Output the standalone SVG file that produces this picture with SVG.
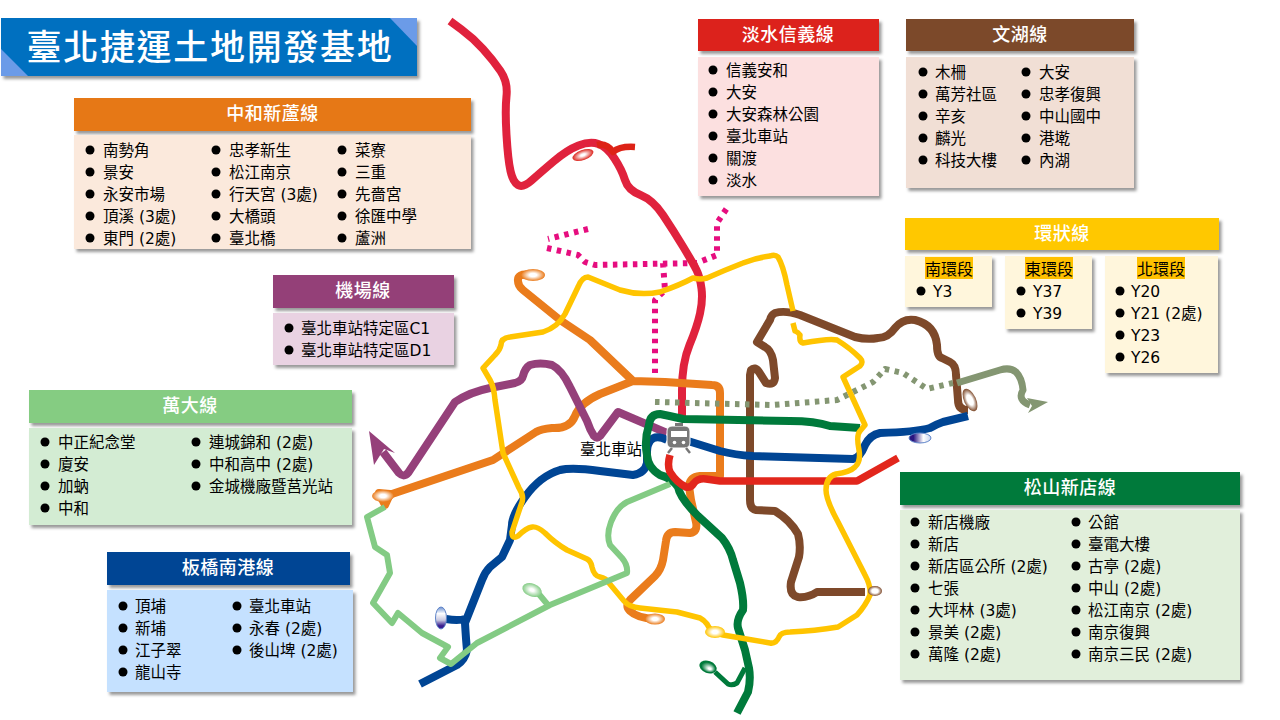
<svg xmlns="http://www.w3.org/2000/svg" width="1280" height="720" viewBox="0 0 1280 720">
<style>
text{font-family:"DejaVu Sans","Noto Sans CJK TC",sans-serif;font-size:15.500px;fill:#000}
.h{font-family:"Noto Sans CJK TC",sans-serif;font-size:18px;font-weight:500;fill:#fff;text-anchor:middle;letter-spacing:.5px}
.s{text-anchor:middle;font-family:"Noto Sans CJK TC",sans-serif;font-size:16px}
.sh{filter:url(#ds)}
.l{fill:none;stroke-linejoin:round;stroke-linecap:butt}
.b{fill:#000}
</style>
<defs>
<filter id="ds" x="-10%" y="-20%" width="120%" height="140%"><feDropShadow dx="2.5" dy="3" stdDeviation="1.5" flood-color="#000" flood-opacity=".4"/></filter>
<filter id="soft" filterUnits="userSpaceOnUse" x="340" y="0" width="740" height="720"><feGaussianBlur stdDeviation=".5"/></filter>
<radialGradient id="gr"><stop offset=".2" stop-color="#fff"/><stop offset="1" stop-color="#dc241c"/></radialGradient>
<radialGradient id="go"><stop offset=".3" stop-color="#fff"/><stop offset="1" stop-color="#ea7b1b"/></radialGradient>
<radialGradient id="gy"><stop offset=".3" stop-color="#fff"/><stop offset="1" stop-color="#ffc400"/></radialGradient>
<radialGradient id="gl"><stop offset=".2" stop-color="#fff"/><stop offset="1" stop-color="#83cb84"/></radialGradient>
<radialGradient id="gd" fx=".65" fy=".6"><stop offset=".15" stop-color="#fff"/><stop offset=".8" stop-color="#007a3a"/></radialGradient>
<linearGradient id="gb" x1="0" y1="0" x2="0" y2="1"><stop offset="0" stop-color="#6a8fd0"/><stop offset=".3" stop-color="#fff"/><stop offset=".6" stop-color="#c8c8e0"/><stop offset=".85" stop-color="#3a1f90"/></linearGradient>
<linearGradient id="gb2"><stop offset=".2" stop-color="#2a1580"/><stop offset=".65" stop-color="#fff"/><stop offset="1" stop-color="#c8d4f0"/></linearGradient>
<radialGradient id="gw"><stop offset=".45" stop-color="#fff"/><stop offset="1" stop-color="#7e4a2b"/></radialGradient>
</defs>
<rect width="1280" height="720" fill="#fff"/>

<g id="lines" filter="url(#soft)">
<path id="brown" class="l" stroke="#7e4a2b" stroke-width="8" d="M968 410Q958 410 958 400L956 375Q956 365 950 362L942 358Q937 357 937 345Q935 325 915 320Q903 318 895 328Q888 338 878 338Q867 340 855 337L800 315Q785 310 775 313Q771 315 770 320L757 342L765 347Q771 350 773 360L775 378Q774 386 766 383L759 372Q755 366 751 370L750 375V500Q750 509 756 510L775 511Q790 520 798 534Q801 545 799 557L791 582Q789 595 798 597Q808 598 817 592L865 592"/>
<path id="pink" class="l" stroke="#e6117f" stroke-width="6" stroke-dasharray="4.500 5.500" d="M588 229L548 239M547 248L578 255L585 262L595 265L697 263L717 255V223L727 208M663 263L665 290L655 300V373"/>
<path id="red" class="l" stroke="#e0243c" stroke-width="8" d="M450 21L461.500 29.500Q473 38 483 49Q493 60 500.500 71Q508 82 506.500 96Q505 110 506.500 135Q508 160 510.500 171Q513 182 518 185Q523 188 531.500 180.500Q540 173 553.500 161.500Q567 150 578.500 145.500Q590 141 598.500 144Q607 147 614.500 158.500Q622 170 625 180Q628 190 640.500 195Q653 200 663 215Q673 230 683 246.500Q693 263 696.500 270Q700 277 701.500 288.500Q703 300 700 313.500Q697 327 689.500 345Q682 363 682 390L682 417"/>
<path class="l" stroke="#dd2418" stroke-width="6.500" d="M597 145Q607 143 613 152Q620 146 635 147"/>
<path id="orange" class="l" stroke="#ea7b1b" stroke-width="8" d="M530 275Q517 273 518 281Q518 286 523 290L560 320Q575 330 590 340L633 381M383 497L493 460L536 432Q541 429 552 428Q570 429 575 416Q580 403 600 394L633 381L665 382L712 385Q720 385 720 393V476H700Q690 477 689 486L691 500L696 522Q698 532 690 533L675 532Q667 532 666 541L663 560Q661 570 655 576L630 600Q625 606 630 611Q637 618 655 619M379 493L385 505L390 494Z"/>
<path id="olive" class="l" stroke="#849672" stroke-width="6" stroke-dasharray="4.500 5.500" d="M655 402L773 405L837 400L873 382L885 369L903 373L927 389L953 383"/>
<path id="olive2" class="l" stroke="#849672" stroke-width="7" d="M957 383L1000 370Q1010 367 1016 372Q1022 378 1023 390Q1017 400 1030 405"/>
<polygon fill="#849672" points="1027,398 1048,402 1028,413 1032,406"/>
<path id="purple" class="l" stroke="#95407a" stroke-width="8" d="M667 433L618 412L600 436Q597 439 594 436Q590 430 587 421L570 387Q562 370 552 365Q540 362 530 365Q525 368 523 376Q522 381 515 383L490 388Q470 392 455 402L410 470Q405 479 399 473L383 452"/>
<polygon fill="#95407a" points="369,431 395,453 384,449 374,465"/>
<path id="blue" class="l" stroke="#004494" stroke-width="8" d="M968 416L943 422Q937 424 930 428Q915 432 880 433Q870 435 865 445Q860 458 853 459L753 456Q735 455 720 451L688 441M667 440Q655 434 650 441Q647 445 647 452V463Q645 473 633 475L600 471Q572 467 560 470Q540 476 525 497Q512 515 512 525L510 540L502 557L490 567Q485 572 482 580L465 623Q466 640 467 650Q465 660 457 665L420 684M465 619Q458 621 446 619"/>
<path id="green" class="l" stroke="#007a3a" stroke-width="8" d="M860 428L830 426Q815 421 790 421L683 419Q670 416 660 414Q650 414 649 425Q644 440 647 455Q648 468 660 475Q672 478 678 487Q680 498 698 516L722 538Q730 548 733 560L740 583Q744 600 743 610Q736 620 738 628L745 650L749 668Q751 680 748 692L737 713"/>
<path class="l" stroke="#007a3a" stroke-width="5" d="M745 668L737 683Q732 686 728 684L715 672"/>
<path class="l" stroke="#e2271e" stroke-width="7.500" d="M670 455Q667 465 670 472Q677 483 686 487Q691 488 694 483Q698 478 706 479L720 481H857L898 458"/>
<path id="yellow" class="l" stroke="#ffc400" stroke-width="5.500" d="M793 311L787 285Q783 265 778 257Q775 254 770 256Q755 258 743 263Q725 270 707 278Q700 280 693 278Q680 285 660 292Q640 296 620 290L588 277Q582 277 578 287L565 314Q558 327 543 332L510 337Q501 338 501 345Q500 350 495 355L483 368L490 380Q494 387 495 400L503 453L519 488Q525 497 521 505L512 532Q512 540 518 536Q526 528 532 527Q537 526 545 533Q555 543 567 550L587 559Q591 561 592 567Q594 576 600 577Q606 578 609 583L624 601Q629 607 640 608L677 612L700 618Q704 620 707 624Q710 632 723 635L770 643Q776 644 779 637Q781 632 790 632Q815 631 838 627L857 615Q866 605 870 595Q871 586 865 575L838 522Q826 500 826 490Q826 477 836 474Q850 472 855 467Q861 462 859 450Q856 435 860 431L865 425L843 377L860 366Q864 362 860 358Q850 348 837 340Q830 338 803 343Q799 342 800 335Q798 332 795 331L793 323"/>
<path id="lgreen" class="l" stroke="#83cb84" stroke-width="6" d="M670 484L627 502Q617 507 611 522Q606 535 610 545L622 558Q628 565 627 573L550 605L477 643L451 664L440 658L448 647L422 633L398 613L392 623L373 603L390 573L387 555L375 547L367 517L385 507M548 605L538 593"/>
<ellipse cx="583" cy="155" rx="11" ry="5" fill="url(#gr)" transform="rotate(-20 583 155)"/>
<ellipse cx="533" cy="275" rx="12" ry="6" fill="url(#go)"/>
<ellipse cx="383" cy="496" rx="11" ry="6" fill="url(#go)"/>
<ellipse cx="655" cy="619" rx="10" ry="5.500" fill="url(#go)"/>
<ellipse cx="715" cy="632" rx="10" ry="6" fill="url(#gy)"/>
<ellipse cx="532" cy="590" rx="10" ry="6.500" fill="url(#gl)" transform="rotate(20 532 590)"/>
<ellipse cx="708" cy="667" rx="9" ry="6" fill="url(#gd)" transform="rotate(20 708 667)"/>
<ellipse cx="441" cy="618" rx="5.500" ry="11" fill="url(#gb)" stroke="#5f84c8" stroke-width="1"/>
<ellipse cx="920" cy="438" rx="11" ry="5" fill="url(#gb2)" stroke="#5f84c8" stroke-width="1"/>
<ellipse cx="970" cy="400" rx="6" ry="12" fill="url(#gw)" transform="rotate(-25 970 400)"/>
<ellipse cx="875" cy="591" rx="7" ry="5" fill="url(#gw)"/>
</g>

<g id="station">
<rect x="667" y="426" width="23" height="22" rx="5" fill="#777" stroke="#fff" stroke-width="1"/>
<rect x="671" y="431" width="16" height="6" fill="#fff"/>
<rect x="675" y="423" width="8" height="3" fill="#777"/>
<circle cx="674.500" cy="442.500" r="1.800" fill="#fff"/><circle cx="683.500" cy="442.500" r="1.800" fill="#fff"/>
<path d="M672 448L668 453M686 448L690 453" stroke="#777" stroke-width="2.500" fill="none"/>
<text x="580" y="455">臺北車站</text>
</g>

<g id="title">
<rect class="sh" x="1" y="18" width="416" height="58" fill="#0070c0"/>
<polygon points="390,18 417,18 417,46" fill="#6b9be8"/>
<polygon points="1,49 1,76 28,76" fill="#6b9be8"/>
<text x="210" y="60" style="font-family:'Noto Sans CJK TC',sans-serif;font-size:35px;font-weight:500;fill:#fff;text-anchor:middle;letter-spacing:1.700px">臺北捷運土地開發基地</text>
</g>

<g id="line-zhonghe">
<rect class="sh" x="74" y="98" width="397" height="33" fill="#e67816"/>
<rect class="sh" x="74" y="135" width="397" height="114" fill="#fbe9dc"/>
<text class="h" x="272.500" y="120">中和新蘆線</text>
<g class="b"><circle cx="90" cy="150" r="4.500"/><circle cx="90" cy="172" r="4.500"/><circle cx="90" cy="194" r="4.500"/><circle cx="90" cy="216" r="4.500"/><circle cx="90" cy="238" r="4.500"/><circle cx="216" cy="150" r="4.500"/><circle cx="216" cy="172" r="4.500"/><circle cx="216" cy="194" r="4.500"/><circle cx="216" cy="216" r="4.500"/><circle cx="216" cy="238" r="4.500"/><circle cx="342" cy="150" r="4.500"/><circle cx="342" cy="172" r="4.500"/><circle cx="342" cy="194" r="4.500"/><circle cx="342" cy="216" r="4.500"/><circle cx="342" cy="238" r="4.500"/></g>
<text x="103" y="155.500">南勢角</text><text x="103" y="177.500">景安</text><text x="103" y="199.500">永安市場</text><text x="103" y="221.500">頂溪 (3處)</text><text x="103" y="243.500">東門 (2處)</text>
<text x="229" y="155.500">忠孝新生</text><text x="229" y="177.500">松江南京</text><text x="229" y="199.500">行天宮 (3處)</text><text x="229" y="221.500">大橋頭</text><text x="229" y="243.500">臺北橋</text>
<text x="355" y="155.500">菜寮</text><text x="355" y="177.500">三重</text><text x="355" y="199.500">先嗇宮</text><text x="355" y="221.500">徐匯中學</text><text x="355" y="243.500">蘆洲</text>
</g>

<g id="line-tamsui">
<rect class="sh" x="698" y="19" width="181" height="32" fill="#dc241c"/>
<rect class="sh" x="698" y="57" width="181" height="139" fill="#fce0e0"/>
<text class="h" x="788" y="41">淡水信義線</text>
<g class="b"><circle cx="713" cy="70" r="4.500"/><circle cx="713" cy="92" r="4.500"/><circle cx="713" cy="114" r="4.500"/><circle cx="713" cy="136" r="4.500"/><circle cx="713" cy="158" r="4.500"/><circle cx="713" cy="180" r="4.500"/></g>
<text x="726" y="75.500">信義安和</text><text x="726" y="97.500">大安</text><text x="726" y="119.500">大安森林公園</text><text x="726" y="141.500">臺北車站</text><text x="726" y="163.500">關渡</text><text x="726" y="185.500">淡水</text>
</g>

<g id="line-wenhu">
<rect class="sh" x="906" y="19" width="228" height="32" fill="#7b4a2a"/>
<rect class="sh" x="906" y="57" width="228" height="131" fill="#f1dfd5"/>
<text class="h" x="1020" y="41">文湖線</text>
<g class="b"><circle cx="923" cy="72" r="4.500"/><circle cx="923" cy="94" r="4.500"/><circle cx="923" cy="116" r="4.500"/><circle cx="923" cy="138" r="4.500"/><circle cx="923" cy="160" r="4.500"/><circle cx="1026" cy="72" r="4.500"/><circle cx="1026" cy="94" r="4.500"/><circle cx="1026" cy="116" r="4.500"/><circle cx="1026" cy="138" r="4.500"/><circle cx="1026" cy="160" r="4.500"/></g>
<text x="935" y="77.500">木柵</text><text x="935" y="99.500">萬芳社區</text><text x="935" y="121.500">辛亥</text><text x="935" y="143.500">麟光</text><text x="935" y="165.500">科技大樓</text>
<text x="1039" y="77.500">大安</text><text x="1039" y="99.500">忠孝復興</text><text x="1039" y="121.500">中山國中</text><text x="1039" y="143.500">港墘</text><text x="1039" y="165.500">內湖</text>
</g>

<g id="line-circular">
<rect class="sh" x="905" y="218" width="314" height="32" fill="#ffc800"/>
<rect class="sh" x="905" y="256" width="87" height="51" fill="#fff6dc"/>
<rect class="sh" x="1005" y="256" width="87" height="73" fill="#fff6dc"/>
<rect class="sh" x="1105" y="256" width="113" height="117" fill="#fff6dc"/>
<text class="h" x="1062" y="240">環狀線</text>
<rect x="925" y="257" width="48" height="22" fill="#ffc000"/><rect x="1025" y="257" width="48" height="22" fill="#ffc000"/><rect x="1137" y="257" width="48" height="22" fill="#ffc000"/>
<text class="s" x="949" y="275">南環段</text><text class="s" x="1049" y="275">東環段</text><text class="s" x="1161" y="275">北環段</text>
<g class="b"><circle cx="921" cy="291" r="4.500"/><circle cx="1021" cy="291" r="4.500"/><circle cx="1021" cy="313" r="4.500"/><circle cx="1120" cy="291" r="4.500"/><circle cx="1120" cy="313" r="4.500"/><circle cx="1120" cy="335" r="4.500"/><circle cx="1120" cy="357" r="4.500"/></g>
<text x="933" y="296.500">Y3</text><text x="1033" y="296.500">Y37</text><text x="1033" y="318.500">Y39</text>
<text x="1131" y="296.500">Y20</text><text x="1131" y="318.500">Y21 (2處)</text><text x="1131" y="340.500">Y23</text><text x="1131" y="362.500">Y26</text>
</g>

<g id="line-airport">
<rect class="sh" x="273" y="275" width="181" height="33" fill="#943f78"/>
<rect class="sh" x="273" y="313" width="181" height="52" fill="#e9d2e2"/>
<text class="h" x="363" y="297">機場線</text>
<g class="b"><circle cx="289" cy="328" r="4.500"/><circle cx="289" cy="350" r="4.500"/></g>
<text x="301" y="333.500">臺北車站特定區C1</text><text x="301" y="355.500">臺北車站特定區D1</text>
</g>

<g id="line-wanda">
<rect class="sh" x="29" y="390" width="323" height="33" fill="#85cc82"/>
<rect class="sh" x="29" y="428" width="323" height="97" fill="#d3ecd3"/>
<text class="h" x="190" y="412">萬大線</text>
<g class="b"><circle cx="45" cy="442" r="4.500"/><circle cx="45" cy="464" r="4.500"/><circle cx="45" cy="486" r="4.500"/><circle cx="45" cy="508" r="4.500"/><circle cx="196" cy="442" r="4.500"/><circle cx="196" cy="464" r="4.500"/><circle cx="196" cy="486" r="4.500"/></g>
<text x="58" y="447.500">中正紀念堂</text><text x="58" y="469.500">廈安</text><text x="58" y="491.500">加蚋</text><text x="58" y="513.500">中和</text>
<text x="209" y="447.500">連城錦和 (2處)</text><text x="209" y="469.500">中和高中 (2處)</text><text x="209" y="491.500">金城機廠暨莒光站</text>
</g>

<g id="line-bannan">
<rect class="sh" x="107" y="552" width="243" height="33" fill="#004494"/>
<rect class="sh" x="107" y="590" width="246" height="102" fill="#c5e1ff"/>
<text class="h" x="228" y="574">板橋南港線</text>
<g class="b"><circle cx="123" cy="606" r="4.500"/><circle cx="123" cy="628" r="4.500"/><circle cx="123" cy="650" r="4.500"/><circle cx="123" cy="672" r="4.500"/><circle cx="237" cy="606" r="4.500"/><circle cx="237" cy="628" r="4.500"/><circle cx="237" cy="650" r="4.500"/></g>
<text x="135" y="611.500">頂埔</text><text x="135" y="633.500">新埔</text><text x="135" y="655.500">江子翠</text><text x="135" y="677.500">龍山寺</text>
<text x="249" y="611.500">臺北車站</text><text x="249" y="633.500">永春 (2處)</text><text x="249" y="655.500">後山埤 (2處)</text>
</g>

<g id="line-songshan">
<rect class="sh" x="900" y="472" width="340" height="33" fill="#007a3a"/>
<rect class="sh" x="900" y="510" width="340" height="170" fill="#e1efdb"/>
<text class="h" x="1070" y="494">松山新店線</text>
<g class="b"><circle cx="915" cy="522" r="4.500"/><circle cx="915" cy="544" r="4.500"/><circle cx="915" cy="566" r="4.500"/><circle cx="915" cy="588" r="4.500"/><circle cx="915" cy="610" r="4.500"/><circle cx="915" cy="632" r="4.500"/><circle cx="915" cy="654" r="4.500"/><circle cx="1076" cy="522" r="4.500"/><circle cx="1076" cy="544" r="4.500"/><circle cx="1076" cy="566" r="4.500"/><circle cx="1076" cy="588" r="4.500"/><circle cx="1076" cy="610" r="4.500"/><circle cx="1076" cy="632" r="4.500"/><circle cx="1076" cy="654" r="4.500"/></g>
<text x="928" y="527.500">新店機廠</text><text x="928" y="549.500">新店</text><text x="928" y="571.500">新店區公所 (2處)</text><text x="928" y="593.500">七張</text><text x="928" y="615.500">大坪林 (3處)</text><text x="928" y="637.500">景美 (2處)</text><text x="928" y="659.500">萬隆 (2處)</text>
<text x="1088" y="527.500">公館</text><text x="1088" y="549.500">臺電大樓</text><text x="1088" y="571.500">古亭 (2處)</text><text x="1088" y="593.500">中山 (2處)</text><text x="1088" y="615.500">松江南京 (2處)</text><text x="1088" y="637.500">南京復興</text><text x="1088" y="659.500">南京三民 (2處)</text>
</g>
</svg>
